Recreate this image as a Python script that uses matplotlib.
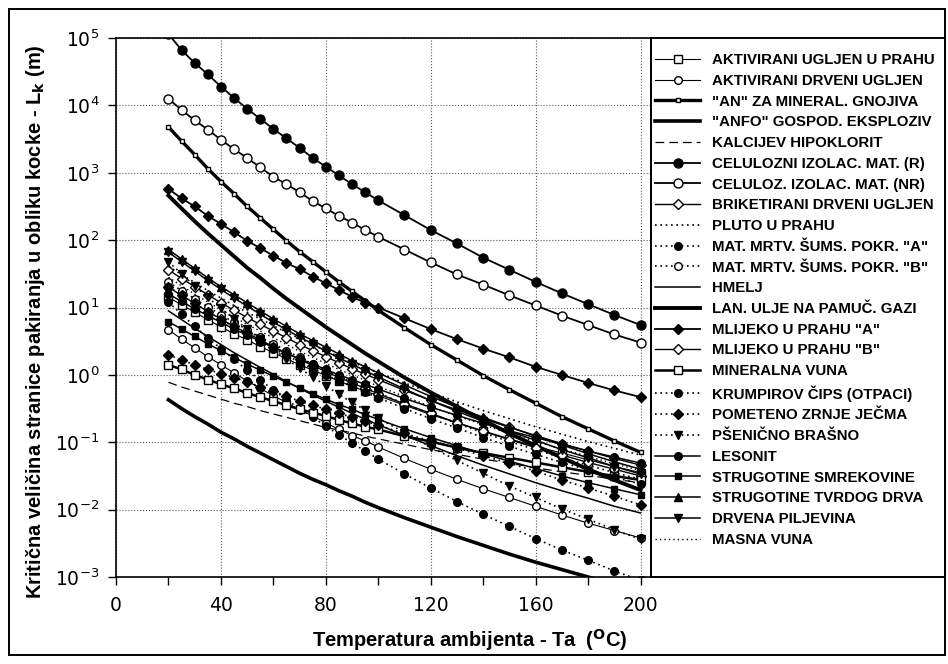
import matplotlib.pyplot as plt
import numpy as np
from matplotlib.patches import Rectangle
from matplotlib.ticker import FixedLocator, NullLocator, LogFormatterMathtext

# temperatura (oC) - tocke krivulja
temp = [20, 25, 30, 35, 40, 45, 50, 55, 60, 65, 70, 75, 80, 85, 90, 95, 100,
        110, 120, 130, 140, 150, 160, 170, 180, 190, 200]

# log10 kriticne velicine Lk (m), ocitano sa slike
aktiv_ugljen = [1.15, 1.04, 0.93, 0.82, 0.71, 0.61, 0.52, 0.42, 0.33, 0.24, 0.15, 0.07, -0.01, -0.09,
                -0.17, -0.24, -0.31, -0.45, -0.59, -0.71, -0.83, -0.95, -1.06, -1.16, -1.26, -1.36, -1.45]
aktiv_drveni = [0.67, 0.53, 0.40, 0.27, 0.15, 0.03, -0.09, -0.20, -0.31, -0.41, -0.52, -0.61, -0.71, -0.81,
                -0.90, -0.98, -1.07, -1.24, -1.40, -1.55, -1.69, -1.82, -1.95, -2.08, -2.20, -2.31, -2.42]
an_gnojiva = [3.68, 3.47, 3.27, 3.06, 2.87, 2.69, 2.50, 2.33, 2.16, 1.99, 1.83, 1.68, 1.53, 1.38,
              1.24, 1.10, 0.96, 0.70, 0.45, 0.22, -0.01, -0.22, -0.42, -0.62, -0.80, -0.98, -1.15]
anfo = [-0.37, -0.50, -0.62, -0.73, -0.85, -0.95, -1.06, -1.16, -1.26, -1.36, -1.46, -1.55, -1.63, -1.72,
        -1.80, -1.89, -1.97, -2.12, -2.26, -2.40, -2.53, -2.66, -2.78, -2.89, -3.00, -3.11, -3.20]
kalcijev = [-0.11, -0.18, -0.24, -0.30, -0.36, -0.42, -0.47, -0.53, -0.58, -0.63, -0.68, -0.73, -0.78, -0.82,
            -0.86, -0.91, -0.95, -1.03, -1.11, -1.18, -1.25, -1.31, -1.38, -1.44, -1.49, -1.55, -1.60]
celul_r = [5.06, 4.82, 4.63, 4.46, 4.28, 4.11, 3.95, 3.80, 3.65, 3.51, 3.37, 3.22, 3.09, 2.96,
           2.83, 2.71, 2.59, 2.37, 2.15, 1.95, 1.74, 1.56, 1.38, 1.21, 1.05, 0.89, 0.74]
celul_nr = [4.10, 3.93, 3.78, 3.64, 3.49, 3.35, 3.22, 3.08, 2.94, 2.83, 2.71, 2.58, 2.47, 2.36,
            2.26, 2.15, 2.05, 1.86, 1.67, 1.49, 1.34, 1.18, 1.03, 0.88, 0.74, 0.60, 0.48]
briketirani = [1.56, 1.43, 1.31, 1.19, 1.07, 0.96, 0.85, 0.75, 0.65, 0.55, 0.45, 0.36, 0.27, 0.18,
               0.09, 0.01, -0.07, -0.23, -0.38, -0.52, -0.65, -0.78, -0.90, -1.02, -1.13, -1.24, -1.34]
pluto = [1.61, 1.49, 1.37, 1.25, 1.14, 1.03, 0.93, 0.83, 0.73, 0.63, 0.54, 0.45, 0.36, 0.27,
         0.19, 0.11, 0.03, -0.12, -0.26, -0.40, -0.53, -0.65, -0.77, -0.88, -0.99, -1.09, -1.19]
mat_a = [1.08, 0.90, 0.72, 0.55, 0.39, 0.23, 0.07, -0.08, -0.22, -0.37, -0.50, -0.63, -0.76, -0.89,
         -1.01, -1.13, -1.25, -1.47, -1.68, -1.88, -2.07, -2.25, -2.43, -2.60, -2.75, -2.91, -3.05]
mat_b = [1.38, 1.25, 1.13, 1.01, 0.89, 0.78, 0.67, 0.56, 0.46, 0.36, 0.26, 0.16, 0.07, -0.02,
         -0.10, -0.19, -0.27, -0.43, -0.58, -0.72, -0.86, -0.99, -1.11, -1.23, -1.34, -1.45, -1.55]
hmelj = [0.95, 0.82, 0.69, 0.57, 0.45, 0.33, 0.22, 0.11, 0.01, -0.10, -0.20, -0.30, -0.39, -0.48,
         -0.57, -0.66, -0.74, -0.90, -1.05, -1.20, -1.34, -1.47, -1.60, -1.72, -1.83, -1.95, -2.05]
lan_ulje = [2.66, 2.47, 2.28, 2.10, 1.93, 1.76, 1.59, 1.44, 1.28, 1.13, 0.99, 0.85, 0.71, 0.58,
            0.45, 0.32, 0.20, -0.04, -0.26, -0.47, -0.67, -0.87, -1.05, -1.23, -1.40, -1.56, -1.71]
mlijeko_a = [2.76, 2.62, 2.50, 2.36, 2.24, 2.12, 1.99, 1.88, 1.77, 1.66, 1.57, 1.46, 1.36, 1.26,
             1.16, 1.07, 1.00, 0.84, 0.68, 0.53, 0.39, 0.26, 0.12, 0.00, -0.12, -0.23, -0.33]
mlijeko_b = [1.30, 1.18, 1.06, 0.94, 0.83, 0.72, 0.62, 0.52, 0.42, 0.32, 0.23, 0.14, 0.05, -0.04,
             -0.12, -0.20, -0.28, -0.43, -0.57, -0.71, -0.84, -0.96, -1.08, -1.19, -1.30, -1.40, -1.50]
mineralna = [0.15, 0.08, 0.00, -0.07, -0.14, -0.20, -0.27, -0.33, -0.39, -0.45, -0.51, -0.56, -0.61, -0.67,
             -0.72, -0.77, -0.81, -0.91, -0.99, -1.08, -1.16, -1.23, -1.30, -1.37, -1.44, -1.50, -1.56]
krumpir = [1.31, 1.18, 1.06, 0.94, 0.82, 0.71, 0.60, 0.49, 0.39, 0.29, 0.19, 0.09, 0.00, -0.09,
           -0.17, -0.26, -0.34, -0.50, -0.65, -0.79, -0.93, -1.06, -1.18, -1.30, -1.41, -1.52, -1.62]
jecam = [0.30, 0.22, 0.15, 0.08, 0.02, -0.04, -0.10, -0.18, -0.24, -0.32, -0.39, -0.45, -0.51, -0.57,
         -0.63, -0.69, -0.75, -0.87, -0.98, -1.09, -1.20, -1.31, -1.43, -1.56, -1.68, -1.80, -1.93]
psenica = [1.68, 1.50, 1.32, 1.15, 0.99, 0.83, 0.68, 0.53, 0.38, 0.24, 0.10, -0.03, -0.16, -0.29,
           -0.41, -0.52, -0.64, -0.86, -1.07, -1.27, -1.46, -1.65, -1.82, -1.99, -2.14, -2.30, -2.44]
lesonit = [1.20, 1.09, 0.98, 0.88, 0.78, 0.68, 0.59, 0.50, 0.41, 0.32, 0.24, 0.16, 0.08, 0.00,
           -0.07, -0.14, -0.21, -0.35, -0.48, -0.60, -0.72, -0.83, -0.93, -1.03, -1.13, -1.22, -1.31]
smreka = [0.79, 0.68, 0.57, 0.46, 0.36, 0.26, 0.16, 0.07, -0.02, -0.11, -0.19, -0.28, -0.36, -0.44,
          -0.51, -0.59, -0.66, -0.80, -0.93, -1.05, -1.17, -1.28, -1.39, -1.50, -1.60, -1.69, -1.78]
tvrdo_drvo = [1.86, 1.72, 1.58, 1.44, 1.31, 1.19, 1.07, 0.95, 0.83, 0.72, 0.61, 0.51, 0.41, 0.31,
              0.21, 0.12, 0.03, -0.15, -0.32, -0.48, -0.63, -0.77, -0.91, -1.04, -1.17, -1.29, -1.40]
piljevina = [1.82, 1.68, 1.54, 1.40, 1.27, 1.14, 1.02, 0.90, 0.78, 0.67, 0.56, 0.46, 0.35, 0.25,
             0.16, 0.06, -0.03, -0.21, -0.38, -0.54, -0.69, -0.84, -0.97, -1.11, -1.23, -1.36, -1.47]
masna_vuna = [1.45, 1.32, 1.20, 1.08, 0.97, 0.86, 0.75, 0.65, 0.55, 0.45, 0.35, 0.26, 0.17, 0.08,
              0.00, -0.08, -0.17, -0.32, -0.47, -0.61, -0.74, -0.87, -0.99, -1.10, -1.21, -1.32, -1.42]

labels = ['AKTIVIRANI UGLJEN U PRAHU', 'AKTIVIRANI DRVENI UGLJEN', '"AN" ZA MINERAL. GNOJIVA',
          '"ANFO" GOSPOD. EKSPLOZIV', 'KALCIJEV HIPOKLORIT', 'CELULOZNI IZOLAC. MAT. (R)',
          'CELULOZ. IZOLAC. MAT. (NR)', 'BRIKETIRANI DRVENI UGLJEN', 'PLUTO U PRAHU',
          'MAT. MRTV. ŠUMS. POKR. "A"', 'MAT. MRTV. ŠUMS. POKR. "B"', 'HMELJ',
          'LAN. ULJE NA PAMUČ. GAZI', 'MLIJEKO U PRAHU "A"', 'MLIJEKO U PRAHU "B"', 'MINERALNA VUNA',
          'KRUMPIROV ČIPS (OTPACI)', 'POMETENO ZRNJE JEČMA', 'PŠENIČNO BRAŠNO', 'LESONIT',
          'STRUGOTINE SMREKOVINE', 'STRUGOTINE TVRDOG DRVA', 'DRVENA PILJEVINA', 'MASNA VUNA']
series = [aktiv_ugljen, aktiv_drveni, an_gnojiva, anfo, kalcijev, celul_r, celul_nr, briketirani,
          pluto, mat_a, mat_b, hmelj, lan_ulje, mlijeko_a, mlijeko_b, mineralna, krumpir, jecam,
          psenica, lesonit, smreka, tvrdo_drvo, piljevina, masna_vuna]

dot = (0, (1, 2.2))
W, K = 'white', 'black'
# (linestyle, linewidth, marker, markerfacecolor, markersize)
styles = [
    ('-', 0.8, 's', W, 5.5), ('-', 0.8, 'o', W, 5.5), ('-', 2.4, 's', W, 3.0),
    ('-', 2.6, None, W, 0), ((0, (7, 4)), 0.9, None, W, 0), ('-', 1.3, 'o', K, 6.5),
    ('-', 1.3, 'o', W, 6.5), ('-', 1.0, 'D', W, 5.0), (dot, 1.2, None, W, 0),
    (dot, 1.2, 'o', K, 5.5), (dot, 1.2, 'o', W, 5.5), ('-', 1.1, None, W, 0),
    ('-', 2.8, None, W, 0), ('-', 1.3, 'D', K, 5.0), ('-', 1.0, 'D', W, 5.0),
    ('-', 1.8, 's', W, 6.0), (dot, 1.2, 'o', K, 5.5), (dot, 1.2, 'D', K, 5.0),
    (dot, 1.2, 'v', K, 6.0), ('-', 1.1, 'o', K, 5.5), ('-', 1.1, 's', K, 5.0),
    ('-', 1.1, '^', K, 6.0), ('-', 1.1, 'v', K, 6.0), (dot, 1.0, None, W, 0),
]

fig = plt.figure(figsize=(9.48, 6.64), dpi=100)
ax = fig.add_axes([116 / 948, 87 / 664, 535 / 948, 539 / 664])

handles = []
for lab, vals, (ls, lw, mk, mfc, ms) in zip(labels, series, styles):
    h, = ax.plot(temp, 10 ** np.array(vals), color='black', ls=ls, lw=lw, marker=mk,
                 mfc=mfc, mec='black', mew=1.0, ms=ms, label=lab)
    handles.append(h)

ax.set_yscale('log')
ax.set_ylim(1e-3, 1e5)
ax.set_xlim(0, 204)
ax.yaxis.set_major_locator(FixedLocator([10.0 ** k for k in range(-3, 6)]))
ax.yaxis.set_major_formatter(LogFormatterMathtext())
ax.yaxis.set_minor_locator(NullLocator())
ax.xaxis.set_major_locator(FixedLocator([0, 40, 80, 120, 160, 200]))
ax.xaxis.set_minor_locator(FixedLocator([20, 60, 100, 140, 180]))
ax.tick_params(which='both', direction='out', length=6, width=1.0, labelsize=13.5, pad=8)
ax.tick_params(axis='y', pad=6)
ax.grid(True, which='major', ls=':', lw=0.8, color='0.35')
for s in ax.spines.values():
    s.set_linewidth(1.2)

fig.text(470 / 948, 1 - 640 / 664, r'Temperatura ambijenta - Ta  ($^{\mathbf{O}}$C)',
         ha='center', va='center', fontsize=14.5, fontweight='bold', family='Liberation Sans')
fig.text(36 / 948, 1 - 322 / 664,
         r'Kritična veličina stranice pakiranja u obliku kocke - L$_{\mathbf{k}}$ (m)',
         ha='center', va='center', rotation=90, fontsize=14.5, fontweight='bold',
         family='Liberation Sans')

# okvir legende i okvir slike
fig.patches.append(Rectangle((651 / 948, 87 / 664), 294 / 948, 539 / 664, transform=fig.transFigure,
                             fill=False, ec='black', lw=1.4))
fig.patches.append(Rectangle((9 / 948, 9 / 664), 936 / 948, 646 / 664, transform=fig.transFigure,
                             fill=False, ec='black', lw=1.4))

fig.legend(handles=handles, loc='upper left', bbox_to_anchor=(655 / 948, 1 - 53 / 664),
           frameon=False, handlelength=3.0, handletextpad=0.8, labelspacing=0.45,
           borderpad=0, borderaxespad=0,
           prop={'family': 'Liberation Sans', 'weight': 'bold', 'size': 10.8})

fig.savefig('out.png', dpi=100)
